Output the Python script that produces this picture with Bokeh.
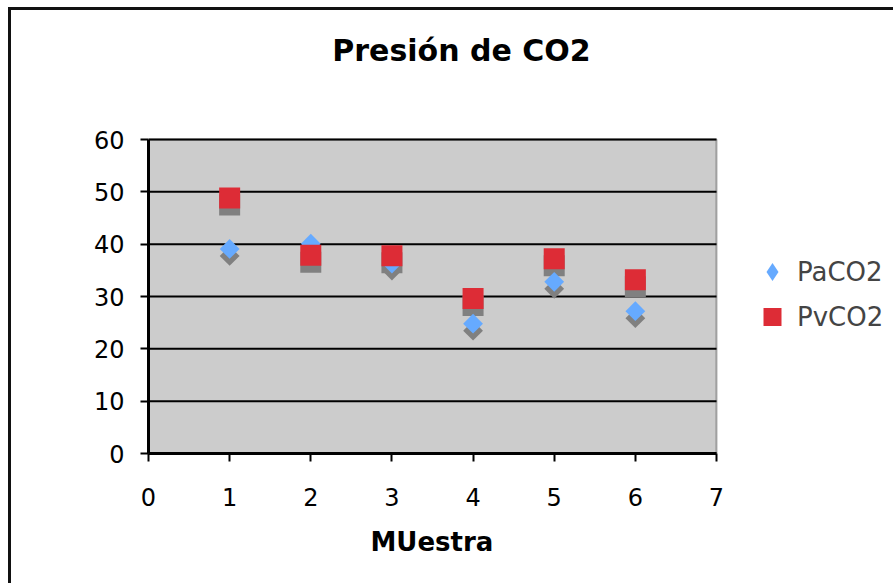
import math
from bokeh.plotting import figure
from bokeh.models import Range1d, Legend, LegendItem, FixedTicker, BoxAnnotation, Label, Title
from bokeh.embed import file_html
from bokeh.resources import INLINE

# Data
muestra = [1, 2, 3, 4, 5, 6]
paco2 = [39.1, 40.1, 36.3, 24.8, 32.8, 27.2]
pvco2 = [48.8, 37.9, 37.8, 29.6, 37.2, 33.2]
x_ticks = [0, 1, 2, 3, 4, 5, 6, 7]
y_ticks = [0, 10, 20, 30, 40, 50, 60]
series_names = ["PaCO2", "PvCO2"]
title_text = "Presión de CO2"
x_label = "MUestra"

FONT = "DejaVu Sans"
BLUE = "#66AAFF"
RED = "#DD2C36"
SHADOW = "#808080"
PLOT_BG = "#CCCCCC"

# canvas geometry (canvas sits at page offset 11,10 because of the chart border)
CW, CH = 885, 576
F_LEFT, F_BOTTOM = 137, 133          # frame spans from x=137 to the right edge, y=0 to 443
PX_X = 568 / 7                        # pixels per x unit (0..7 over 568 px)
PX_Y = 314 / 60                       # pixels per y unit (0..60 over 314 px)
XMAX = (CW - F_LEFT) / PX_X
YMAX = (CH - F_BOTTOM) / PX_Y
SH = 7 / PX_Y                         # shadow drop of 7 px in y units

p = figure(width=CW, height=CH, output_backend="svg", toolbar_location=None,
           x_range=Range1d(0, XMAX), y_range=Range1d(0, YMAX),
           min_border_left=F_LEFT, min_border_right=0,
           min_border_top=0, min_border_bottom=F_BOTTOM)
p.styles = {"margin-left": "8px", "margin-top": "7px",
            "border-left": "3px solid #111", "border-top": "3px solid #111"}
p.extra_y_ranges = {"shadow": Range1d(SH, YMAX + SH)}

p.background_fill_color = "white"
p.border_fill_color = "white"
p.outline_line_color = None
p.xgrid.grid_line_color = None
p.ygrid.grid_line_color = None

# plot area
p.add_layout(BoxAnnotation(left=x_ticks[0], right=x_ticks[-1],
                           bottom=y_ticks[0], top=y_ticks[-1],
                           fill_color=PLOT_BG, fill_alpha=1,
                           line_color="black", line_width=2, level="underlay"))
# horizontal gridlines
p.segment(x0=[x_ticks[0]] * len(y_ticks), x1=[x_ticks[-1]] * len(y_ticks),
          y0=y_ticks, y1=y_ticks, line_color="black", line_width=2)

p.xaxis.ticker = FixedTicker(ticks=x_ticks)
p.yaxis.ticker = FixedTicker(ticks=y_ticks)
p.xaxis.bounds = (x_ticks[0], x_ticks[-1])
p.yaxis.bounds = (y_ticks[0], y_ticks[-1])
for ax in (p.xaxis, p.yaxis):
    ax.axis_line_color = "black"
    ax.axis_line_width = 3
    ax.major_tick_line_color = "black"
    ax.major_tick_line_width = 2
    ax.major_tick_in = 0
    ax.major_tick_out = 8
    ax.minor_tick_line_color = None
    ax.major_label_text_font = FONT
    ax.major_label_text_font_size = "24px"
    ax.major_label_text_color = "black"
p.yaxis.major_label_standoff = 16
p.xaxis.major_label_standoff = 26

# x axis title, placed in the lower panel under the plot area
p.add_layout(Title(text=x_label, align="left", offset=222, vertical_align="top",
                   standoff=36, text_font=FONT, text_font_size="26px",
                   text_font_style="bold", text_color="black"), "below")

# chart title placed above the plot area
p.add_layout(Label(x=(461 - 148) / PX_X, y=(443 - 40) / PX_Y, text=title_text,
                   text_font=FONT, text_font_size="30px", text_font_style="bold",
                   text_color="black", text_align="center", text_baseline="middle"))

# legend-only glyph, hidden beneath the series markers
la = p.scatter(muestra, paco2, marker="diamond", size=8, fill_color=BLUE, line_color=None)
# shadows
p.scatter(muestra, paco2, marker="square", angle=math.pi / 4, size=14,
          fill_color=SHADOW, line_color=None, y_range_name="shadow")
p.scatter(muestra, pvco2, marker="square", size=21,
          fill_color=SHADOW, line_color=None, y_range_name="shadow")
# series
ra = p.scatter(muestra, paco2, marker="square", angle=math.pi / 4, size=14,
               fill_color=BLUE, line_color=None)
rv = p.scatter(muestra, pvco2, marker="square", size=21,
               fill_color=RED, line_color=None)

leg = Legend(items=[LegendItem(label=series_names[0], renderers=[la]),
                    LegendItem(label=series_names[1], renderers=[rv])],
             location=(599, 114), glyph_width=50, glyph_height=45, spacing=0,
             padding=0, margin=0, border_line_color=None,
             background_fill_alpha=0, label_text_font=FONT,
             label_text_font_size="26px", label_standoff=-5)
p.add_layout(leg)

open("out.html", "w").write(file_html(p, INLINE))
